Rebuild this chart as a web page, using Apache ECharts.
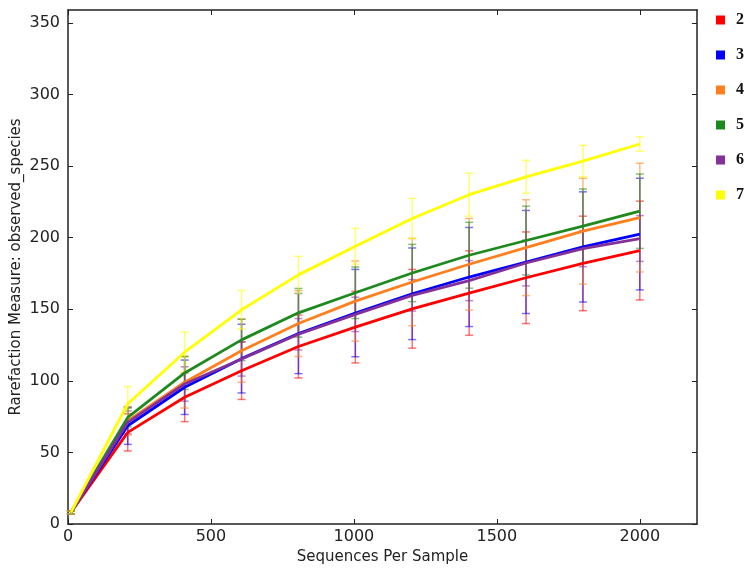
<!DOCTYPE html>
<html>
<head>
<meta charset="utf-8">
<title>Rarefaction</title>
<script src="https://cdn.jsdelivr.net/npm/echarts@6/dist/echarts.min.js"></script>
<style>
  html, body { margin: 0; padding: 0; background: #fff; }
  #chart { width: 754px; height: 575px; }
</style>
</head>
<body>
<div id="chart"></div>
<script>
// sequences per sample (x)
const depths = [10, 209, 408, 607, 806, 1005, 1204, 1403, 1602, 1801, 2000]

const groupNames = ['2', '3', '4', '5', '6', '7']
const groupColors = ['#ff0000', '#0000ff', '#ff7f1e', '#1e8a1e', '#84309a', '#ffff00']

// mean observed_species per group
const mean2 = [8, 64, 88.5, 107, 124, 137.5, 150.3, 161.3, 172, 182, 191]
const mean3 = [8, 68.6, 95.5, 115.5, 133, 147.3, 160.8, 172.5, 183, 193.5, 202.5]
const mean4 = [8, 72, 99, 121, 140, 155.7, 169, 181.4, 193, 204.5, 214]
const mean5 = [8, 74.4, 105.5, 128.6, 147.5, 161.5, 175.3, 187.7, 198, 208, 218.5]
const mean6 = [8, 71, 97.8, 115.3, 132.5, 146.4, 159.7, 170, 182.3, 192.3, 199.4]
const mean7 = [8, 84, 120, 149.6, 174, 194, 213.4, 230, 242.5, 253.5, 265.4]

// error bar half height per group
const err2 = [1, 13, 17, 20, 22, 25, 27.5, 29.5, 32, 33, 34.5]
const err3 = [1, 13, 19, 24, 28, 30.5, 32, 34.6, 36, 38.5, 39]
const err4 = [1, 10, 18, 22, 23, 28, 30.5, 32, 33.5, 37, 38]
const err5 = [1, 6.5, 11.5, 14.5, 17, 18, 20, 23, 24, 26, 26]
const err6 = [1, 8, 12, 12, 11, 12, 11, 14, 16, 12.6, 16]
const err7 = [1, 12, 14, 13.5, 13, 12.5, 14, 15, 11.5, 11, 5]

const yTicks = [0, 50, 100, 150, 200, 250, 300, 350]
const xTicks = [0, 500, 1000, 1500, 2000]

const means = [mean2, mean3, mean4, mean5, mean6, mean7]
const errs = [err2, err3, err4, err5, err6, err7]

const chart = echarts.init(document.getElementById('chart'))

const tickFont = { fontFamily: 'DejaVu Sans', fontSize: 16, color: '#222' }

// draws one vertical bar with caps using the axes' coord system
function errorBarItem(color) {
  return (params, api) => {
    const x = api.value(0)
    const top = api.coord([x, api.value(2)])
    const bot = api.coord([x, api.value(1)])
    const half = 4
    const style = { stroke: color, lineWidth: 1.5, opacity: 0.55 }
    return {
      type: 'group',
      children: [
        { type: 'line', shape: { x1: top[0], y1: top[1], x2: bot[0], y2: bot[1] }, style },
        { type: 'line', shape: { x1: top[0] - half, y1: top[1], x2: top[0] + half, y2: top[1] }, style },
        { type: 'line', shape: { x1: bot[0] - half, y1: bot[1], x2: bot[0] + half, y2: bot[1] }, style }
      ]
    }
  }
}

const series = []

groupNames.forEach((name, i) => {
  series.push({
    type: 'custom',
    name: name,
    renderItem: errorBarItem(groupColors[i]),
    itemStyle: { color: groupColors[i] },
    data: depths.map((d, k) => [d, means[i][k] - errs[i][k], means[i][k] + errs[i][k]]),
    z: 1,
    silent: true
  })
})

groupNames.forEach((name, i) => {
  series.push({
    type: 'line',
    name: name,
    data: depths.map((d, k) => [d, means[i][k]]),
    symbol: 'none',
    lineStyle: { color: groupColors[i], width: 2.8 },
    itemStyle: { color: groupColors[i] },
    z: 2
  })
})

const axisLine = { show: true, onZero: false, lineStyle: { color: '#222', width: 1.5 } }
const plainNum = (v) => String(v)

const option = {
  animation: false,
  backgroundColor: '#fff',
  grid: { left: 68, top: 10, width: 629, height: 514, outerBoundsMode: 'none', containLabel: false },
  legend: {
    data: groupNames,
    orient: 'vertical',
    left: 711,
    top: 7,
    itemWidth: 9,
    itemHeight: 9,
    itemGap: 19,
    icon: 'rect',
    textStyle: { fontFamily: 'Liberation Serif', fontWeight: 'bold', fontSize: 16, color: '#111', padding: [0, 0, 0, 6] }
  },
  xAxis: [
    {
      type: 'value',
      min: 0,
      max: 2200,
      name: 'Sequences Per Sample',
      nameLocation: 'middle',
      nameGap: 26,
      nameMoveOverlap: false,
      nameTextStyle: { fontFamily: 'DejaVu Sans', fontSize: 15, color: '#222' },
      axisLine,
      axisTick: { inside: true, length: 5, customValues: xTicks, lineStyle: { color: '#222' } },
      axisLabel: Object.assign({ margin: 5, customValues: xTicks, formatter: plainNum }, tickFont),
      splitLine: { show: false }
    },
    {
      type: 'value',
      position: 'top',
      min: 0,
      max: 2200,
      axisLine,
      axisTick: { inside: true, length: 5, customValues: xTicks, lineStyle: { color: '#222' } },
      axisLabel: { show: false },
      splitLine: { show: false }
    }
  ],
  yAxis: [
    {
      type: 'value',
      min: 0,
      max: 359,
      name: 'Rarefaction Measure: observed_species',
      nameLocation: 'middle',
      nameGap: 44,
      nameMoveOverlap: false,
      nameTextStyle: { fontFamily: 'DejaVu Sans', fontSize: 15, color: '#222' },
      axisLine,
      axisTick: { inside: true, length: 5, customValues: yTicks, lineStyle: { color: '#222' } },
      axisLabel: Object.assign({ margin: 8, customValues: yTicks, formatter: plainNum }, tickFont),
      splitLine: { show: false }
    },
    {
      type: 'value',
      position: 'right',
      min: 0,
      max: 359,
      axisLine,
      axisTick: { inside: true, length: 5, customValues: yTicks, lineStyle: { color: '#222' } },
      axisLabel: { show: false },
      splitLine: { show: false }
    }
  ],
  series
}

chart.setOption(option)
</script>
</body>
</html>
